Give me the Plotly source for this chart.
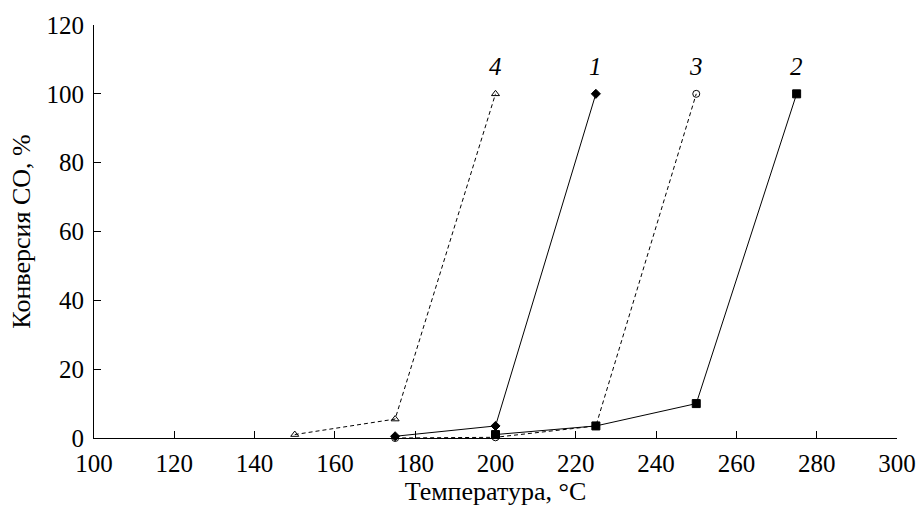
import plotly.graph_objects as go

temp1 = [175, 200, 225]
conv1 = [0.5, 3.5, 100]
temp2 = [200, 225, 250, 275]
conv2 = [1.0, 3.5, 10, 100]
temp3 = [175, 200, 225, 250]
conv3 = [0.0, 0.2, 3.5, 100]
temp4 = [150, 175, 200]
conv4 = [1.0, 5.5, 100]
labels = ["1", "2", "3", "4"]

series = [
    (temp1, conv1, "solid", "diamond", "black"),
    (temp2, conv2, "solid", "square", "black"),
    (temp3, conv3, "dash", "circle-open", "black"),
    (temp4, conv4, "dash", "triangle-up-open", "black"),
]

fig = go.Figure()
for (x, y, dash, sym, col), lab in zip(series, labels):
    fig.add_trace(go.Scatter(
        x=x, y=y, mode="lines+markers", name=lab,
        line=dict(color="black", width=1, dash="4px,3px" if dash == "dash" else "solid"),
        marker=dict(symbol=sym, size=7 if sym != "square" else 8, color="black",
                    line=dict(color="black", width=1)),
        cliponaxis=False,
    ))
    fig.add_annotation(x=x[-1], y=y[-1], text=f"<i>{lab}</i>", showarrow=False,
                       yshift=27, font=dict(size=25, family="Liberation Serif", color="black"))

font = dict(family="Liberation Serif", size=25, color="black")
tfont = dict(family="Liberation Serif", size=26, color="black")
fig.update_layout(
    width=919, height=511,
    margin=dict(l=94, r=22, t=25, b=73, autoexpand=False),
    paper_bgcolor="white", plot_bgcolor="white",
    showlegend=False,
    font=font,
    xaxis=dict(range=[100, 300], dtick=20, tick0=100, showline=True, linecolor="black",
               linewidth=1, ticks="inside", ticklen=7, tickcolor="black", showgrid=False,
               zeroline=False, title=dict(text="Температура, °C", font=tfont, standoff=4),
               tickfont=font, ticklabelstandoff=3, automargin=False),
    yaxis=dict(range=[0, 120], dtick=20, showline=True, linecolor="black", linewidth=1,
               ticks="inside", ticklen=7, tickcolor="black", showgrid=False, zeroline=False,
               title=dict(text="Конверсия CO, %", font=tfont, standoff=8), tickfont=font,
               ticklabelstandoff=4, automargin=False),
)
fig.write_html("out.html")
